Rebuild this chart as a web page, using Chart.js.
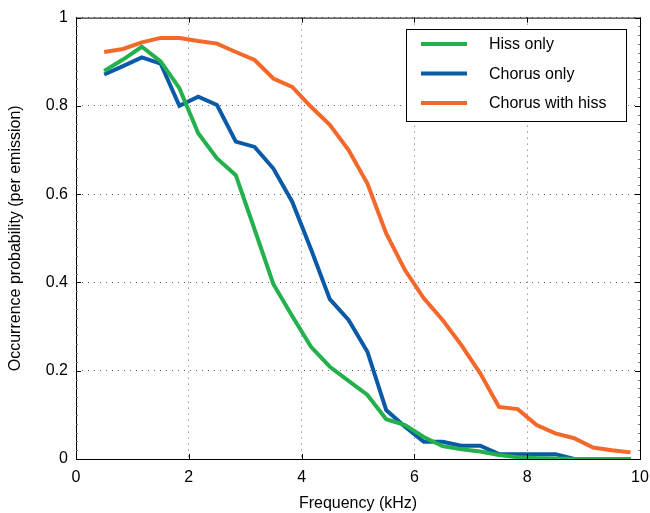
<!DOCTYPE html>
<html>
<head>
<meta charset="utf-8">
<script src="https://cdn.jsdelivr.net/npm/chart.js@4.4.1/dist/chart.umd.min.js"></script>
<style>
  html, body { margin: 0; padding: 0; background: #fff; }
  #wrap { width: 650px; height: 513px; }
</style>
</head>
<body>
<div id="wrap"><canvas id="myChart" width="650" height="513"></canvas></div>
<script>
// frequency bins (kHz), 1/3 kHz apart
var freqs = [0.5, 0.833, 1.167, 1.5, 1.833, 2.167, 2.5, 2.833, 3.167, 3.5, 3.833, 4.167, 4.5, 4.833,
             5.167, 5.5, 5.833, 6.167, 6.5, 6.833, 7.167, 7.5, 7.833, 8.167, 8.5, 8.833, 9.167, 9.5, 9.833];

var hissOnly = [0.879, 0.905, 0.934, 0.901, 0.84, 0.738, 0.681, 0.643, 0.52, 0.396, 0.324, 0.254, 0.209, 0.177,
                0.145, 0.09, 0.077, 0.05, 0.029, 0.022, 0.017, 0.009, 0.004, 0.002, 0.001, 0, 0, 0, 0];
var chorusOnly = [0.871, 0.89, 0.91, 0.896, 0.80, 0.821, 0.802, 0.719, 0.707, 0.658, 0.583, 0.475, 0.362, 0.315,
                  0.243, 0.111, 0.073, 0.039, 0.039, 0.030, 0.030, 0.011, 0.011, 0.011, 0.011, 0, 0, 0, 0];
var chorusHiss = [0.922, 0.929, 0.944, 0.954, 0.954, 0.947, 0.941, 0.922, 0.904, 0.862, 0.843, 0.798, 0.757, 0.700,
                  0.624, 0.511, 0.428, 0.364, 0.315, 0.258, 0.194, 0.118, 0.113, 0.077, 0.058, 0.047, 0.026, 0.020, 0.015];

var seriesNames = ["Hiss only", "Chorus only", "Chorus with hiss"];
var seriesColors = ["#22b14c", "#0a5aa8", "#f4682a"];

var xTicks = [0, 2, 4, 6, 8, 10];
var yTicks = [0, 0.2, 0.4, 0.6, 0.8, 1];

var fontFam = "'Liberation Sans', Arial, Helvetica, sans-serif";

function pts(vals) {
    return freqs.map(function(f, i) { return {x: f, y: vals[i]}; });
}

// frame, inward ticks and boxed legend
var framePlugin = {
    id: "frame",
    afterDatasetsDraw: function(chart) {
        var ctx = chart.ctx, a = chart.chartArea;
        var xs = chart.scales.x, ys = chart.scales.y;
        ctx.save();
        ctx.strokeStyle = "#000";
        ctx.lineWidth = 1;
        ctx.strokeRect(a.left + 0.5, a.top + 0.5, a.right - a.left, a.bottom - a.top);

        // minor ticks on the sides
        ctx.strokeStyle = "#777";
        for (var v = 0.02; v < 1; v += 0.02) {
            var py = Math.round(ys.getPixelForValue(v)) + 0.5;
            ctx.beginPath();
            ctx.moveTo(a.left, py); ctx.lineTo(a.left + 2, py);
            ctx.moveTo(a.right, py); ctx.lineTo(a.right - 2, py);
            ctx.stroke();
        }
        // major ticks
        ctx.strokeStyle = "#000";
        yTicks.forEach(function(v) {
            var py = Math.round(ys.getPixelForValue(v)) + 0.5;
            ctx.beginPath();
            ctx.moveTo(a.left, py); ctx.lineTo(a.left + 5, py);
            ctx.moveTo(a.right, py); ctx.lineTo(a.right - 5, py);
            ctx.stroke();
        });
        xTicks.forEach(function(v) {
            var px = Math.round(xs.getPixelForValue(v)) + 0.5;
            ctx.beginPath();
            ctx.moveTo(px, a.bottom); ctx.lineTo(px, a.bottom - 5);
            ctx.moveTo(px, a.top); ctx.lineTo(px, a.top + 5);
            ctx.stroke();
        });

        // legend box
        var bx = 406, by = 29, bw = 220, bh = 92;
        ctx.fillStyle = "#fff";
        ctx.fillRect(bx, by, bw, bh);
        ctx.strokeStyle = "#000";
        ctx.strokeRect(bx + 0.5, by + 0.5, bw, bh);
        ctx.font = "16px " + fontFam;
        ctx.textBaseline = "middle";
        chart.data.datasets.forEach(function(ds, i) {
            var ly = 44 + i * 29.5;
            ctx.strokeStyle = ds.borderColor;
            ctx.lineWidth = 4;
            ctx.beginPath();
            ctx.moveTo(421, ly); ctx.lineTo(467, ly);
            ctx.stroke();
            ctx.fillStyle = "#000";
            ctx.fillText(ds.label, 489, ly + 1);
        });
        ctx.restore();
    }
};

var ctx = document.getElementById("myChart").getContext("2d");
var chart = new Chart(ctx, {
    type: "line",
    data: {
        datasets: [
            {label: seriesNames[0], data: pts(hissOnly), borderColor: seriesColors[0]},
            {label: seriesNames[1], data: pts(chorusOnly), borderColor: seriesColors[1]},
            {label: seriesNames[2], data: pts(chorusHiss), borderColor: seriesColors[2]}
        ]
    },
    options: {
        responsive: false,
        animation: false,
        layout: {padding: {top: 17, right: 10, left: 0, bottom: 0}},
        elements: {
            line: {borderWidth: 4, tension: 0, borderJoinStyle: "miter", fill: false},
            point: {radius: 0}
        },
        plugins: {legend: {display: false}, tooltip: {enabled: false}},
        scales: {
            x: {
                type: "linear", min: 0, max: 10,
                afterBuildTicks: function(s) { s.ticks = xTicks.map(function(v) { return {value: v}; }); },
                afterFit: function(s) { s.height = 54; s.paddingRight = 0; s.paddingLeft = 0; },
                grid: {color: "#666", lineWidth: 1, drawTicks: false},
                border: {display: false, dash: [1, 5]},
                ticks: {color: "#000", padding: 9, font: {size: 16, family: fontFam}, maxRotation: 0,
                        callback: function(v) { return String(v); }},
                title: {display: true, text: "Frequency (kHz)", color: "#000", padding: {top: 4, bottom: 0},
                        font: {size: 16, family: fontFam}}
            },
            y: {
                type: "linear", min: 0, max: 1,
                afterBuildTicks: function(s) { s.ticks = yTicks.map(function(v) { return {value: v}; }); },
                afterFit: function(s) { s.width = 76; },
                grid: {color: "#666", lineWidth: 1, drawTicks: false},
                border: {display: false, dash: [1, 5]},
                ticks: {color: "#000", padding: 8, font: {size: 16, family: fontFam},
                        callback: function(v) { return String(Math.round(v * 10) / 10); }},
                title: {display: true, text: "Occurrence probability (per emission)", color: "#000",
                        padding: {top: 6, bottom: 0}, font: {size: 16, family: fontFam}}
            }
        }
    },
    plugins: [framePlugin]
});
</script>
</body>
</html>
